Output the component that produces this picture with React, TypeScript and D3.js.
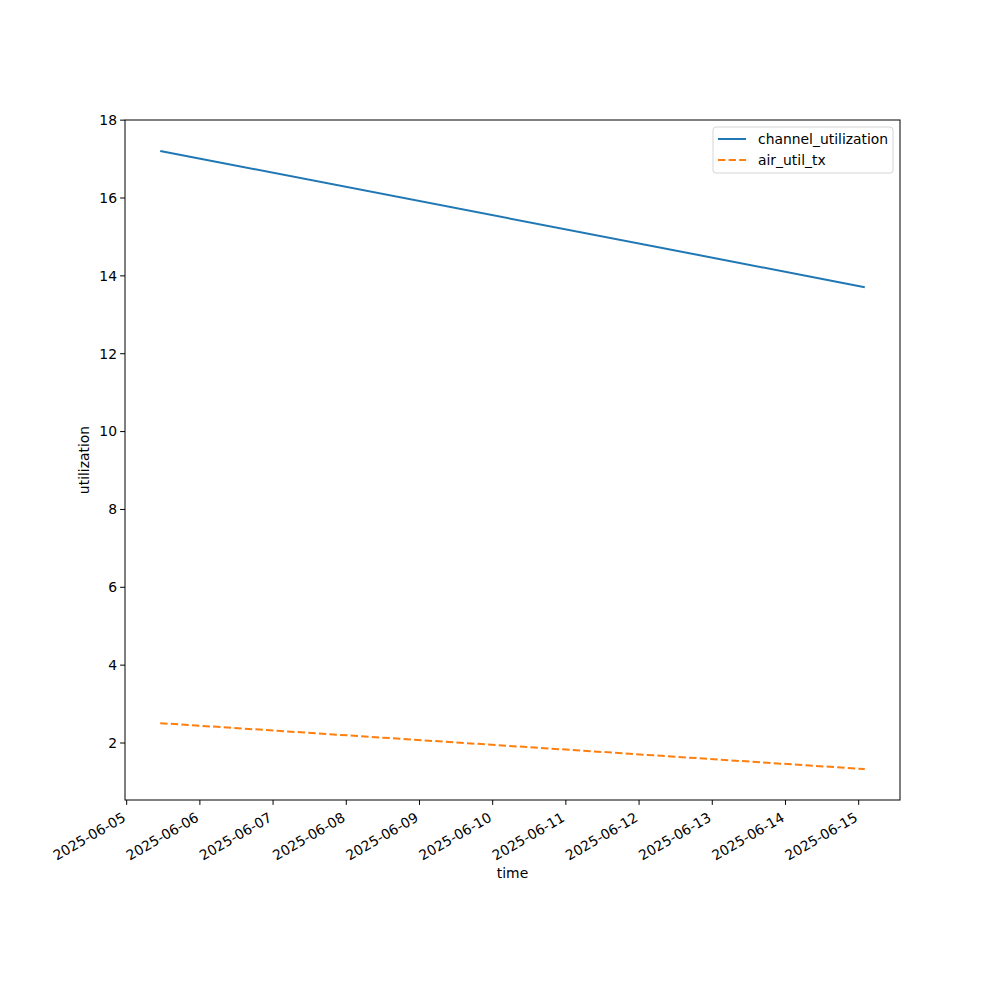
import React from "react";
import * as d3 from "d3";

const times = ["2025-06-05T11:00:00", "2025-06-15T02:00:00"];
const channelUtilization = [17.21, 13.71];
const airUtilTx = [2.51, 1.33];
const xTickLabels = ["2025-06-05","2025-06-06","2025-06-07","2025-06-08","2025-06-09","2025-06-10","2025-06-11","2025-06-12","2025-06-13","2025-06-14","2025-06-15"];
const yTicks = [2, 4, 6, 8, 10, 12, 14, 16, 18];
const seriesNames = ["channel_utilization", "air_util_tx"];
const colors = ["#1f77b4", "#ff7f0e"];

export default function App() {
  const L = 125, R = 900, T = 120, B = 800;
  const parse = (s: string) => new Date(s);
  const dates = times.map(parse);
  const t0 = +dates[0], t1 = +dates[dates.length - 1];
  const xm = (t1 - t0) * 0.05;
  const x = d3.scaleTime().domain([new Date(t0 - xm), new Date(t1 + xm)]).range([L, R]);
  const all = [...channelUtilization, ...airUtilTx];
  const ymin = d3.min(all)!, ymax = d3.max(all)!;
  const ym = (ymax - ymin) * 0.05;
  const y = d3.scaleLinear().domain([ymin - ym, ymax + ym]).range([B, T]);
  const line = d3.line<number>().x((_, i) => x(dates[i])).y((d) => y(d));
  const font = "DejaVu Sans, sans-serif";
  const fs = 13.9;
  return (
    <svg width={1000} height={1000} style={{ display: "block", position: "absolute", left: 0, top: 0 }} fontFamily={font}>
      <rect x={0} y={0} width={1000} height={1000} fill="white" />
      <path d={line(channelUtilization)!} fill="none" stroke={colors[0]} strokeWidth={2} />
      <path d={line(airUtilTx)!} fill="none" stroke={colors[1]} strokeWidth={2} strokeDasharray="7.4,3.2" />
      <rect x={L} y={T} width={R - L} height={B - T} fill="none" stroke="black" strokeWidth={1} />
      {yTicks.map((t) => (
        <g key={t}>
          <line x1={L - 4.9} x2={L} y1={y(t)} y2={y(t)} stroke="black" strokeWidth={1} />
          <text x={L - 8} y={y(t)} dy="0.35em" textAnchor="end" fontSize={fs}>{t}</text>
        </g>
      ))}
      {xTickLabels.map((s) => {
        const px = x(parse(s + "T00:00:00"));
        return (
          <g key={s}>
            <line x1={px} x2={px} y1={B} y2={B + 4.9} stroke="black" strokeWidth={1} />
            <text transform={`translate(${px - 5},${B + 12}) rotate(-30)`} textAnchor="end" dy="0.7em" fontSize={fs}>{s}</text>
          </g>
        );
      })}
      <text x={(L + R) / 2} y={878} textAnchor="middle" fontSize={fs}>time</text>
      <text transform={`translate(89,${(T + B) / 2}) rotate(-90)`} textAnchor="middle" fontSize={fs}>utilization</text>
      <g>
        <rect x={713} y={127} width={180} height={46} rx={3} fill="white" stroke="#cccccc" strokeWidth={1} opacity={0.8} />
        {seriesNames.map((n, i) => (
          <g key={n}>
            <line x1={718} x2={746} y1={139 + i * 21} y2={139 + i * 21} stroke={colors[i]} strokeWidth={2} strokeDasharray={i === 1 ? "7.4,3.2" : undefined} />
            <text x={758} y={139 + i * 21} dy="0.35em" fontSize={fs}>{n}</text>
          </g>
        ))}
      </g>
    </svg>
  );
}
